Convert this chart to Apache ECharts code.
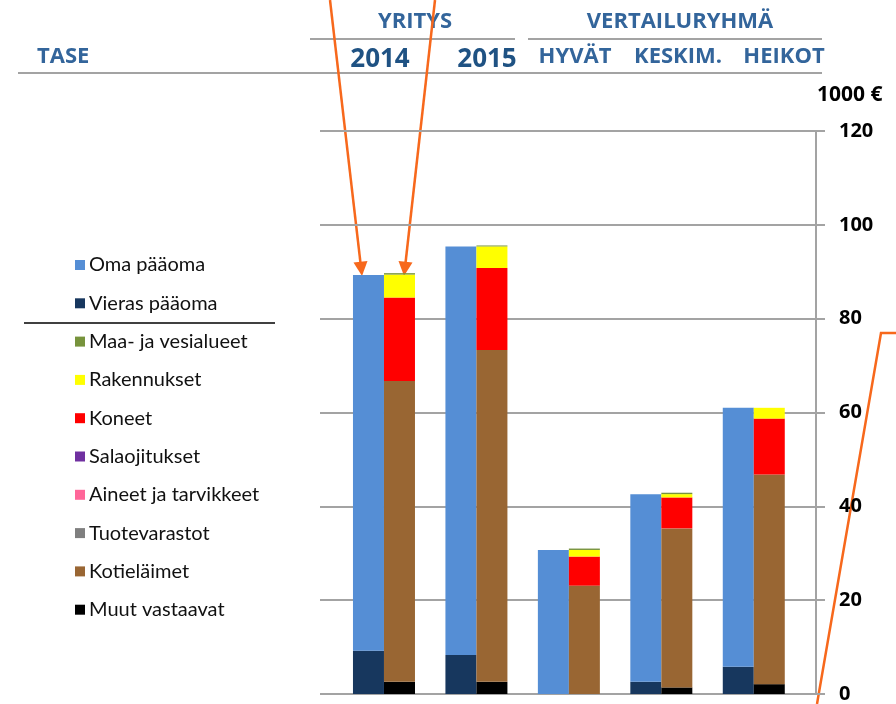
<!DOCTYPE html>
<html>
<head>
<meta charset="utf-8">
<script src="https://cdn.jsdelivr.net/npm/echarts@6/dist/echarts.min.js"></script>
<style>
	html, body { margin: 0; padding: 0; background: #fff; }
	#main { width: 896px; height: 704px; }
</style>
</head>
<body>
<div id="main"></div>
<script>
	var categories = ['2014', '2015', 'HYVÄT', 'KESKIM.', 'HEIKOT'];
	var yTicks = [0, 20, 40, 60, 80, 100, 120];

	// rahoitus (vasen pylväs)
	var vierasPaaoma = [9.2, 8.3, 0, 2.6, 5.8];
	var omaPaaoma = [80.1, 87.1, 30.7, 40.0, 55.2];

	// varat (oikea pylväs), alhaalta ylös
	var muutVastaavat = [2.6, 2.6, 0, 1.4, 2.1];
	var kotielaimet = [64.1, 70.7, 23.1, 33.9, 44.7];
	var tuotevarastot = [0, 0, 0, 0, 0];
	var aineet = [0, 0, 0, 0, 0];
	var salaojitukset = [0, 0, 0, 0, 0];
	var koneet = [17.8, 17.5, 6.2, 6.6, 11.9];
	var rakennukset = [4.9, 4.6, 1.4, 0.7, 2.3];
	var maaVesi = [0.3, 0.2, 0.3, 0.3, 0];

	var legendOrder = ['Oma pääoma', 'Vieras pääoma', 'Maa- ja vesialueet', 'Rakennukset', 'Koneet',
		'Salaojitukset', 'Aineet ja tarvikkeet', 'Tuotevarastot', 'Kotieläimet', 'Muut vastaavat'];

	var headFont = '"Liberation Sans Narrow", "Open Sans", sans-serif';
	var headColor = '#33659b';
	var orange = '#f7681c';

	function bar(name, data, stack, color) {
		return {
			name: name,
			type: 'bar',
			stack: stack,
			xAxisIndex: 1,
			yAxisIndex: 1,
			barWidth: 31,
			barGap: '0%',
			itemStyle: { color: color },
			data: data
		};
	}

	function headText(txt, x, y, size, color) {
		return {
			type: 'text', x: x, y: y,
			style: {
				text: txt, fill: color || headColor, font: 'bold ' + size + 'px ' + headFont,
				align: 'center', verticalAlign: 'middle'
			}
		};
	}

	function hLine(x1, x2, y, color, w) {
		return {
			type: 'line',
			shape: { x1: x1, y1: y, x2: x2, y2: y },
			style: { stroke: color, lineWidth: w }
		};
	}

	var chart = echarts.init(document.getElementById('main'));

	var option = {
		animation: false,
		grid: [
			{ left: 320, right: 80, top: 131, bottom: 10 },
			{ left: 337.75, right: 96, top: 131, bottom: 10 }
		],
		xAxis: [
			{ type: 'value', gridIndex: 0, show: false, min: 0, max: 1 },
			{ type: 'category', gridIndex: 1, data: categories, show: false }
		],
		yAxis: [
			{
				type: 'value',
				gridIndex: 0,
				position: 'right',
				min: yTicks[0],
				max: yTicks[yTicks.length - 1],
				interval: 20,
				axisLine: { show: true, onZero: false, lineStyle: { color: '#a3a3a3', width: 2 } },
				axisTick: { show: true, length: 9, lineStyle: { color: '#a3a3a3', width: 2 } },
				splitLine: { show: true, lineStyle: { color: '#a3a3a3', width: 2 } },
				axisLabel: {
					margin: 23, color: '#000', fontWeight: 'bold', fontSize: 20,
					fontFamily: '"Open Sans", sans-serif'
				}
			},
			{ type: 'value', gridIndex: 1, show: false, min: 0, max: 120 }
		],
		legend: {
			orient: 'vertical',
			left: 70,
			top: 250,
			itemWidth: 10,
			itemHeight: 10,
			itemGap: 18.3,
			icon: 'rect',
			data: legendOrder,
			textStyle: { fontSize: 20, lineHeight: 20, color: '#111', fontFamily: 'Lato, sans-serif', padding: [0, 0, 0, -1] }
		},
		series: [
			bar('Vieras pääoma', vierasPaaoma, 'rahoitus', '#17375e'),
			bar('Oma pääoma', omaPaaoma, 'rahoitus', '#558ed5'),
			bar('Muut vastaavat', muutVastaavat, 'varat', '#000000'),
			bar('Kotieläimet', kotielaimet, 'varat', '#996633'),
			bar('Tuotevarastot', tuotevarastot, 'varat', '#7f7f7f'),
			bar('Aineet ja tarvikkeet', aineet, 'varat', '#ff6699'),
			bar('Salaojitukset', salaojitukset, 'varat', '#7030a0'),
			bar('Koneet', koneet, 'varat', '#ff0000'),
			bar('Rakennukset', rakennukset, 'varat', '#ffff00'),
			bar('Maa- ja vesialueet', maaVesi, 'varat', '#77933c')
		],
		graphic: [
			headText('YRITYS', 415, 22, 22),
			headText('VERTAILURYHMÄ', 680, 22, 22),
			hLine(310, 515, 39, '#a3a3a3', 2),
			hLine(528, 822, 39, '#a3a3a3', 2),
			{
				type: 'text', x: 37, y: 57,
				style: { text: 'TASE', fill: headColor, font: 'bold 22px ' + headFont, verticalAlign: 'middle' }
			},
			headText(categories[0], 380, 60, 26, '#1f5283'),
			headText(categories[1], 487, 60, 26, '#1f5283'),
			headText(categories[2], 575, 57, 22),
			headText(categories[3], 678, 57, 22),
			headText(categories[4], 784, 57, 22),
			hLine(18, 822, 73, '#a3a3a3', 2),
			{
				type: 'text', x: 817, y: 95,
				style: { text: '1000 €', fill: '#000', font: 'bold 21px "Open Sans", sans-serif', verticalAlign: 'middle' }
			},
			hLine(24, 275, 323, '#000', 1.5),
			// nuolet
			{
				type: 'line',
				shape: { x1: 330, y1: 0, x2: 360.5, y2: 263 },
				style: { stroke: orange, lineWidth: 2.5 }
			},
			{
				type: 'polygon',
				shape: { points: [[362, 276], [367.5, 261], [353.5, 262.6]] },
				style: { fill: orange }
			},
			{
				type: 'line',
				shape: { x1: 435, y1: 0, x2: 405.5, y2: 263 },
				style: { stroke: orange, lineWidth: 2.5 }
			},
			{
				type: 'polygon',
				shape: { points: [[404, 276], [412.5, 262.6], [398.5, 261]] },
				style: { fill: orange }
			},
			{
				type: 'polyline',
				shape: { points: [[817, 704], [881, 333], [896, 333]] },
				style: { stroke: orange, lineWidth: 2.5, fill: null }
			}
		]
	};

	chart.setOption(option);
</script>
</body>
</html>
